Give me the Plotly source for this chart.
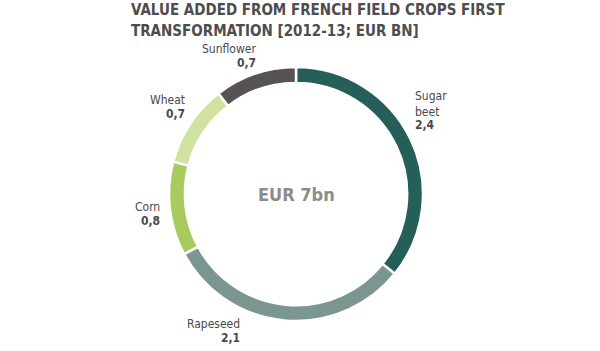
import plotly.graph_objects as go

categories = ["Sugar beet", "Rapeseed", "Corn", "Wheat", "Sunflower"]
values = [2.4, 2.1, 0.8, 0.7, 0.7]
colors = ["#265f5a", "#7b9691", "#a9ca5d", "#d0e2a0", "#575354"]
label_names = ["Sugar<br>beet", "Rapeseed", "Corn", "Wheat", "Sunflower"]
center_text = "EUR 7bn"
title_lines = ["VALUE ADDED FROM FRENCH FIELD CROPS FIRST", "TRANSFORMATION [2012-13; EUR BN]"]

W, H = 600, 351
cx, cy, R = 296, 194, 127

fig = go.Figure(go.Pie(
    labels=categories, values=values, sort=False, direction="clockwise", rotation=0,
    hole=0.875, textinfo="none", hoverinfo="label+value",
    marker=dict(colors=colors, line=dict(color="white", width=2.5)),
    domain=dict(x=[(cx - R) / W, (cx + R) / W], y=[(H - cy - R) / H, (H - cy + R) / H]),
    showlegend=False,
))

lab_font = "Liberation Sans Narrow, DejaVu Sans Condensed, Arial Narrow, sans-serif"
# label placement: name line center y, value line center y
placements = {
    "Sugar beet": (414, 104, 125, "left"),
    "Rapeseed": (241, 324, 338, "right"),
    "Corn": (161, 207, 221, "right"),
    "Wheat": (186, 100, 114, "right"),
    "Sunflower": (257, 49, 63, "right"),
}
anns = []
for name, lname, v in zip(categories, label_names, values):
    x, yn, yv, anchor = placements[name]
    vtxt = f"{v:.1f}".replace(".", ",")
    anns.append(dict(
        x=x / W, y=1 - yn / H, xref="paper", yref="paper", xanchor=anchor, yanchor="middle",
        align=anchor, showarrow=False, borderpad=0, text=lname,
        font=dict(family=lab_font, size=12, color="#4a4a4a"),
    ))
    anns.append(dict(
        x=x / W, y=1 - yv / H, xref="paper", yref="paper", xanchor=anchor, yanchor="middle",
        align=anchor, showarrow=False, borderpad=0, text=f"<b>{vtxt}</b>",
        font=dict(family=lab_font, size=12, color="#4a4a4a"),
    ))
anns.append(dict(
    x=cx / W, y=1 - cy / H, xref="paper", yref="paper", xanchor="center", yanchor="middle",
    showarrow=False, text=f"<b>{center_text}</b>",
    font=dict(family=lab_font, size=18, color="#8c8c8c"),
))
for i, line in enumerate(title_lines):
    anns.append(dict(
        x=130 / W, y=1 - (10 + 21 * i) / H, xref="paper", yref="paper", xanchor="left", yanchor="middle",
        showarrow=False, borderpad=0, text=f"<b>{line}</b>",
        font=dict(family=lab_font, size=15, color="#4d4d4d"),
    ))

fig.update_layout(
    width=W, height=H, margin=dict(l=0, r=0, t=0, b=0),
    paper_bgcolor="white", plot_bgcolor="white", annotations=anns,
)
fig.write_html("out.html")
